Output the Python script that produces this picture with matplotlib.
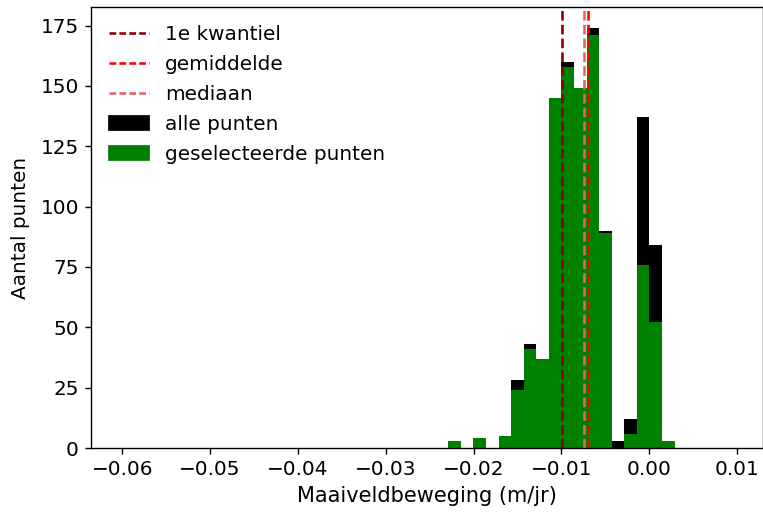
import numpy as np
import matplotlib
matplotlib.use('Agg')
import matplotlib.pyplot as plt
from matplotlib.lines import Line2D
from matplotlib.patches import Patch

plt.rcParams['font.size'] = 11.5

# histogram bins (m/jr)
bin_start = -0.02289
bin_width = 0.001432
n_bins = 18

# aantal punten per bin
alle_punten = [3, 0, 4, 0, 5, 28, 43, 37, 145, 160, 149, 174, 90, 3, 12, 137, 84, 3]
geselecteerd = [3, 0, 4, 0, 5, 24, 41, 37, 145, 158, 149, 171, 89, 0, 6, 76, 52, 3]

# statistieken van de geselecteerde punten
kwantiel_1 = -0.00998
gemiddelde = -0.00702
mediaan = -0.00740

edges = bin_start + bin_width * np.arange(n_bins + 1)

fig = plt.figure(figsize=(763 / 125, 514 / 125), dpi=125)
ax = fig.add_axes([91 / 763, 66 / 514, 672 / 763, 441 / 514])

ax.bar(edges[:-1], alle_punten, width=bin_width, align='edge', color='black', linewidth=0)
ax.bar(edges[:-1], geselecteerd, width=bin_width, align='edge', color='green', linewidth=0)

ax.axvline(kwantiel_1, color='darkred', linestyle='--', linewidth=1.5)
ax.axvline(gemiddelde, color='red', linestyle='--', linewidth=1.5)
ax.axvline(mediaan, color='#e06666', linestyle='--', linewidth=1.5)

ax.set_xlim(-0.06356, 0.01295)
ax.set_yticks(np.arange(0, 176, 25))
ax.set_xlabel('Maaiveldbeweging (m/jr)', fontsize=12)
ax.set_ylabel('Aantal punten', labelpad=6)

# kortere streepjes in de legenda
dash = (0, (2.6, 1.2))
handles = [
    Line2D([], [], color='darkred', linestyle=dash, linewidth=1.5),
    Line2D([], [], color='red', linestyle=dash, linewidth=1.5),
    Line2D([], [], color='#e06666', linestyle=dash, linewidth=1.5),
    Patch(color='black'),
    Patch(color='green'),
]
labels = ['1e kwantiel', 'gemiddelde', 'mediaan', 'alle punten', 'geselecteerde punten']
ax.legend(handles, labels, loc='upper left', frameon=False, labelspacing=0.55)

fig.savefig('out.png', dpi=125)
